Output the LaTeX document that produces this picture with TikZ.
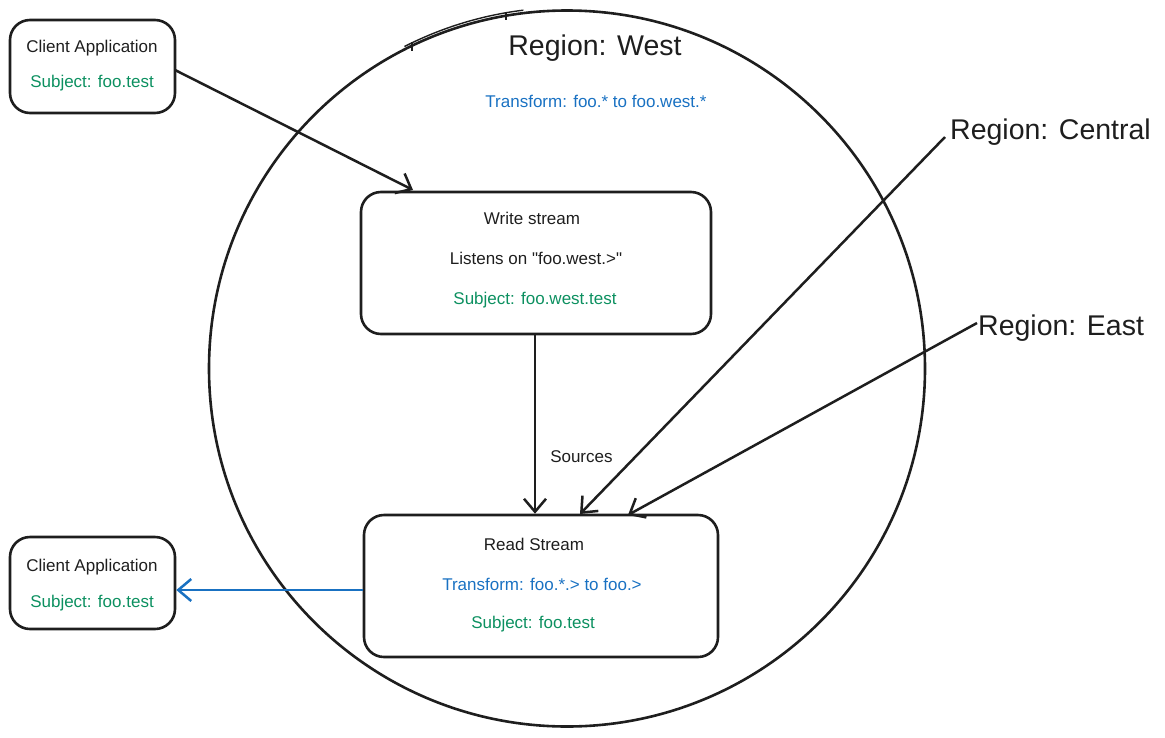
\documentclass[tikz,border=0pt]{standalone}
\usepackage{fontspec}
\setmainfont{Liberation Sans}
\usetikzlibrary{arrows.meta}
\definecolor{exgreen}{HTML}{0C9060}
\definecolor{exblue}{HTML}{1971C2}
\definecolor{exblack}{HTML}{1E1E1E}
\tikzset{
  box/.style={draw=exblack, line width=2.6pt, rounded corners=20pt, inner sep=0pt},
  smalltxt/.style={font=\fontsize{17}{19}\selectfont, text=exblack, inner sep=0pt},
  greentxt/.style={smalltxt, text=exgreen},
  bluetxt/.style={smalltxt, text=exblue},
  bigtxt/.style={font=\fontsize{28.5}{32}\selectfont, text=exblack, inner sep=0pt},
  arr/.style={draw=exblack, line width=2.5pt, -{Straight Barb[length=13pt,width=22pt,line width=2.5pt]}},
  barr/.style={arr, draw=exblue},
  rim/.style={draw=exblack, line width=2.6pt}
}
\begin{document}
\begin{tikzpicture}[x=1pt,y=-1pt]
\useasboundingbox (0,0) rectangle (1165,737);
% region circle
\draw[rim] (567,368.5) circle [radius=358];
\draw[rim, line width=1.4pt] (567,365.5) ++(-117:358) arc[start angle=-117, end angle=-97, radius=358];
\draw[rim, line width=1.4pt] (412,42) -- (412,51);
\draw[rim, line width=1.4pt] (506,12) -- (506,20);
\node[bigtxt] (west) at (595,48) {Region: West};
\node[bluetxt] (wtrans) at (596,101) {Transform: foo.* to foo.west.*};
% client top
\node[box, minimum width=165pt, minimum height=93pt] (c1) at (92.5,66.5) {};
\node[smalltxt] (c1a) at (92,48) {Client Application};
\node[greentxt] (c1b) at (92,83) {Subject: foo.test};
% write stream
\node[box, minimum width=350pt, minimum height=142pt] (ws) at (536,263) {};
\node[smalltxt] (wsa) at (532,218) {Write stream};
\node[smalltxt] (wsb) at (536,258) {Listens on \textquotedbl foo.west.>\textquotedbl};
\node[greentxt] (wsc) at (535,300) {Subject: foo.west.test};
% read stream
\node[box, minimum width=354pt, minimum height=142pt] (rs) at (541,586) {};
\node[smalltxt] (rsa) at (534,544) {Read Stream};
\node[bluetxt] (rsb) at (542,584) {Transform: foo.*.> to foo.>};
\node[greentxt] (rsc) at (533,624) {Subject: foo.test};
% client bottom
\node[box, minimum width=165pt, minimum height=92pt] (c2) at (92.5,583) {};
\node[smalltxt] (c2a) at (92,567) {Client Application};
\node[greentxt] (c2b) at (92,603) {Subject: foo.test};
% region labels
\node[bigtxt, anchor=west] (central) at (950,132) {Region: Central};
\node[bigtxt, anchor=west] (east) at (978,328) {Region: East};
% attachment points
\coordinate (wsin) at (413,190);
\coordinate (c1out) at (175,70);
\coordinate (rsc1) at (580,514);
\coordinate (rse1) at (628,515);
\coordinate (cen0) at (945,137);
\coordinate (eas0) at (977,323);
% connectors
\draw[arr] (c1out) -- (wsin);
\draw[arr] (ws.south -| 535,0) -- (rs.north -| 535,0) node[pos=0.68, right=14pt, smalltxt] (src) {Sources};
\draw[arr] (cen0) -- (rsc1);
\draw[arr] (eas0) -- (rse1);
\draw[barr] (rs.west |- 0,590) -- (c2.east |- 0,590);
\end{tikzpicture}
\end{document}
